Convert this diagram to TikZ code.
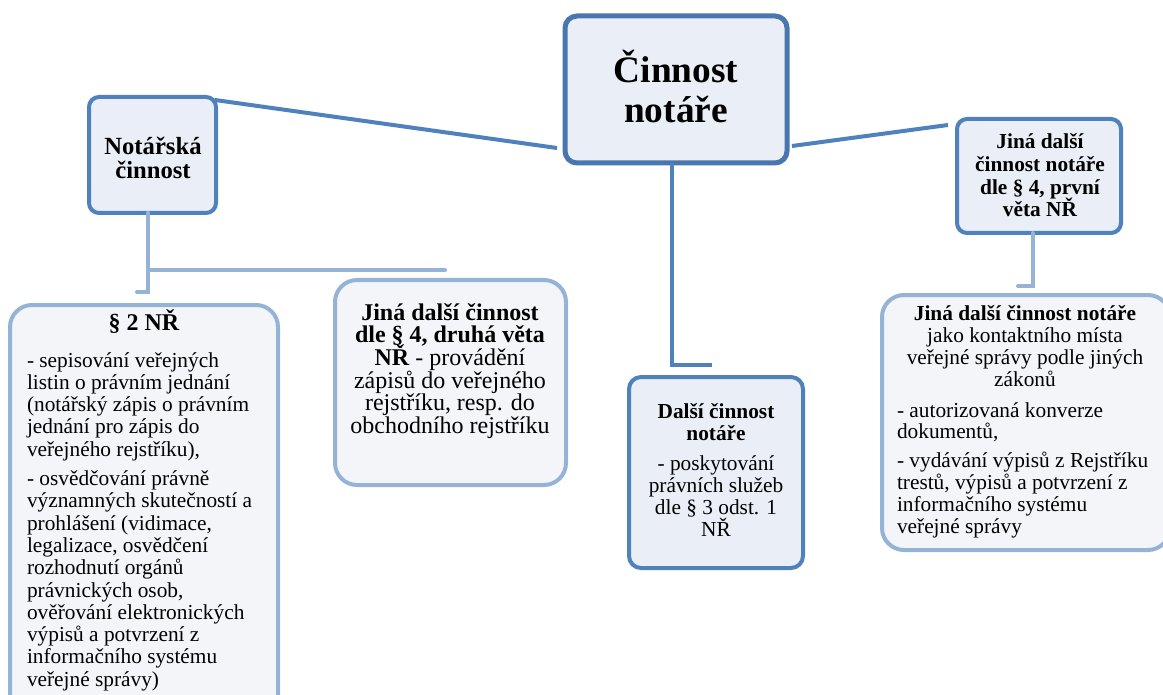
\documentclass[tikz,border=0pt]{standalone}
\usepackage{fontspec}
\setmainfont{Liberation Serif}
\usetikzlibrary{calc}
\lineskiplimit=-20pt
\lineskip=0pt
\definecolor{darkblue}{HTML}{4F81BD}
\definecolor{topblue}{HTML}{4A76B0}
\definecolor{lightblue}{HTML}{95B3D7}
\definecolor{fillA}{HTML}{EAEEF6}
\definecolor{fillB}{HTML}{F3F5F9}
\tikzset{
  darkbox/.style={draw=darkblue, line width=3pt, fill=fillA, inner sep=0pt, outer sep=0pt},
  lightbox/.style={draw=lightblue, line width=3pt, fill=fillB, inner sep=0pt, outer sep=0pt},
  darkline/.style={draw=darkblue, line width=3pt},
  lightline/.style={draw=lightblue, line width=3pt, line cap=round},
  txt/.style={inner sep=0pt, outer sep=0pt, anchor=north, text=black},
}
\begin{document}
\begin{tikzpicture}[x=0.75pt, y=-0.75pt]
\useasboundingbox (0,0) rectangle (1163,695);
% boxes
\node[darkbox, draw=topblue, line width=3.75pt, rounded corners=9pt, minimum width=166.5pt, minimum height=110.25pt] (top) at (676,89.5) {};
\node[darkbox, rounded corners=7.5pt, minimum width=95.25pt, minimum height=87pt] (notarska) at (152.5,155) {};
\node[darkbox, rounded corners=7.5pt, minimum width=123pt, minimum height=85.5pt] (rtop) at (1039,176) {};
\node[lightbox, rounded corners=16.5pt, minimum width=201pt, minimum height=318.75pt] (par2) at (144,517.5) {};
\node[lightbox, rounded corners=16.5pt, minimum width=173.25pt, minimum height=153.75pt] (mid) at (450.5,382.5) {};
\node[darkbox, rounded corners=9pt, minimum width=130.5pt, minimum height=143.25pt] (dalsi) at (716,472.5) {};
\node[lightbox, rounded corners=16.5pt, minimum width=216pt, minimum height=191.25pt] (rbot) at (1026,422.5) {};
% connectors
\draw[darkline] ($(notarska.north east)+(-1,3)$) -- ($(top.south west)+(-8,-15)$);
\draw[darkline] ($(top.south east)+(5,-17)$) -- ($(rtop.north west)+(-9,6)$);
\draw[darkline] ($(top.south)+(-4,0)$) |- ($(dalsi.north)+(-4,-12)$);
\draw[lightline] ($(notarska.south)+(-4.5,0)$) |- ($(par2.north)+(-7,-13)$);
\draw[lightline] ($(notarska.south)+(-4.5,0)$) |- ($(mid.north)+(-5.5,-10)$);
\draw[lightline] ($(rtop.south)+(-6,0)$) |- ($(rbot.north)+(-8,-9)$);
% texts
\node[txt, align=center, font={\fontsize{28}{30}\selectfont\bfseries}] (ttop) at (676,43) {\rule{0pt}{30pt}Činnost\\notáře};
\node[txt, align=center, font={\fontsize{18.5}{17.5}\selectfont\bfseries}] (tnot) at (153,131) {\rule{0pt}{18pt}Notářská\\činnost};
\node[txt, align=center, font={\fontsize{16}{16.9}\selectfont\bfseries}] (trtop) at (1040,125) {\rule{0pt}{18pt}Jiná další\\činnost notáře\\dle § 4, první\\věta NŘ};
\node[txt, align=center, font={\fontsize{18}{17}\selectfont\bfseries}] (tpar2h) at (144,306) {\rule{0pt}{18pt}§ 2 NŘ};
\node[txt, anchor=north west, align=left, font={\fontsize{16}{16.7}\selectfont}] (tpar2l) at (27,343) {\rule{0pt}{18pt}- sepisování veřejných\\listin o právním jednání\\(notářský zápis o právním\\jednání pro zápis do\\veřejného rejstříku),\\[5.5pt]- osvědčování právně\\významných skutečností a\\prohlášení (vidimace,\\legalizace, osvědčení\\rozhodnutí orgánů\\právnických osob,\\ověřování elektronických\\výpisů a potvrzení z\\informačního systému\\veřejné správy)};
\node[txt, align=center, font={\fontsize{18}{17}\selectfont}] (tmid) at (450,296) {\rule{0pt}{18pt}\textbf{Jiná další činnost}\\\textbf{dle § 4, druhá věta}\\\textbf{NŘ} - provádění\\zápisů do veřejného\\rejstříku, resp. do\\obchodního rejstříku};
\node[txt, align=center, font={\fontsize{16}{16.5}\selectfont}] (tdalsi) at (716,394) {\rule{0pt}{18pt}\textbf{Další činnost}\\\textbf{notáře}\\[6pt]- poskytování\\právních služeb\\dle § 3 odst. 1\\NŘ};
\node[txt, align=center, font={\fontsize{16}{16.7}\selectfont}] (trboth) at (1025,296) {\rule{0pt}{18pt}\textbf{Jiná další činnost notáře}\\jako kontaktního místa\\veřejné správy podle jiných\\zákonů};
\node[txt, anchor=north west, align=left, font={\fontsize{16}{16.3}\selectfont}] (trbotl) at (897,393) {\rule{0pt}{18pt}- autorizovaná konverze\\dokumentů,\\[5.5pt]- vydávání výpisů z Rejstříku\\trestů, výpisů a potvrzení z\\informačního systému\\veřejné správy};
\end{tikzpicture}
\end{document}
